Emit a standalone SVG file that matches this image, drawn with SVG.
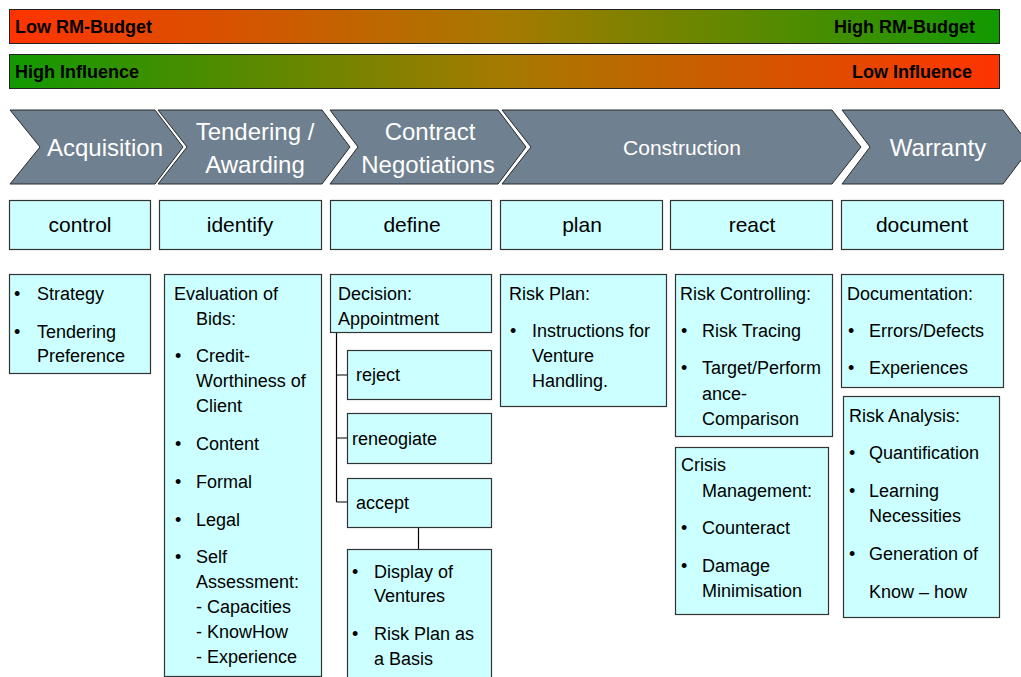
<svg xmlns="http://www.w3.org/2000/svg" width="1021" height="677" viewBox="0 0 1021 677">
<defs>
<linearGradient id="gRG" x1="0" y1="0" x2="1" y2="0">
<stop offset="0" stop-color="#ff3300"/>
<stop offset="0.5" stop-color="#a67a00"/>
<stop offset="1" stop-color="#119900"/>
</linearGradient>
<linearGradient id="gGR" x1="0" y1="0" x2="1" y2="0">
<stop offset="0" stop-color="#119900"/>
<stop offset="0.5" stop-color="#a67a00"/>
<stop offset="1" stop-color="#ff3300"/>
</linearGradient>
<style>
text{font-family:"Liberation Sans",Arial,sans-serif;}
.bar{stroke:#222;stroke-width:1;}
.bt{font-size:18px;font-weight:bold;fill:#000;}
.chev{fill:#6f8090;stroke:#2a2a2a;stroke-width:1;}
.ct{font-size:24px;fill:#fff;text-anchor:middle;}
.box{fill:#ccffff;stroke:#333;stroke-width:1.2;}
.rt{font-size:21px;fill:#000;text-anchor:middle;}
.t{font-size:18px;fill:#000;}
.ln{stroke:#000;stroke-width:1.2;fill:none;}
</style>
</defs>
<g id="bars">
<rect class="bar" x="9.5" y="9.5" width="990" height="34" fill="url(#gRG)"/>
<text class="bt" x="15" y="33">Low RM-Budget</text>
<text class="bt" x="975" y="33" text-anchor="end">High RM-Budget</text>
<rect class="bar" x="9.5" y="54.5" width="990" height="34" fill="url(#gGR)"/>
<text class="bt" x="15" y="78">High Influence</text>
<text class="bt" x="972" y="78" text-anchor="end">Low Influence</text>
</g>
<g id="phase-acquisition">
<polygon class="chev" points="10,110 155,110 183,147 155,184 10,184 40,147"/>
<text class="ct" x="105" y="156">Acquisition</text>
</g>
<g id="phase-tendering">
<polygon class="chev" points="158,110 322,110 350,147 322,184 158,184 187,147"/>
<text class="ct" x="255" y="140">Tendering /</text>
<text class="ct" x="255" y="173">Awarding</text>
</g>
<g id="phase-contract">
<polygon class="chev" points="330,110 498,110 526,147 498,184 330,184 358,147"/>
<text class="ct" x="430" y="140">Contract</text>
<text class="ct" x="428" y="173">Negotiations</text>
</g>
<g id="phase-construction">
<polygon class="chev" points="502,110 832,110 861,147 832,184 502,184 531,147"/>
<text class="ct" x="682" y="155" style="font-size:21px">Construction</text>
</g>
<g id="phase-warranty">
<polygon class="chev" points="842,110 1003,110 1031,147 1003,184 842,184 870,147"/>
<text class="ct" x="938" y="156">Warranty</text>
</g>
<g id="row-control"><rect class="box" x="9.5" y="200.5" width="141" height="49"/><text class="rt" x="80" y="232">control</text></g>
<g id="row-identify"><rect class="box" x="159.5" y="200.5" width="162" height="49"/><text class="rt" x="240" y="232">identify</text></g>
<g id="row-define"><rect class="box" x="330.5" y="200.5" width="161" height="49"/><text class="rt" x="412" y="232">define</text></g>
<g id="row-plan"><rect class="box" x="500.5" y="200.5" width="162" height="49"/><text class="rt" x="582" y="232">plan</text></g>
<g id="row-react"><rect class="box" x="670.5" y="200.5" width="162" height="49"/><text class="rt" x="752" y="232">react</text></g>
<g id="row-document"><rect class="box" x="841.5" y="200.5" width="162" height="49"/><text class="rt" x="922" y="232">document</text></g>
<g id="connectors">
<path class="ln" d="M336.5,332 V502 M336.5,375 H347 M336.5,438 H347 M336.5,502 H347 M418.5,527 V549"/>
</g>
<g id="box-control">
<rect class="box" x="9.5" y="274.5" width="141" height="99"/>
<text class="t" x="14" y="300">•</text><text class="t" x="37" y="300">Strategy</text>
<text class="t" x="14" y="338">•</text><text class="t" x="37" y="338">Tendering</text>
<text class="t" x="37" y="362">Preference</text>
</g>
<g id="box-identify">
<rect class="box" x="164.5" y="274.5" width="157" height="402"/>
<text class="t" x="174" y="300">Evaluation of</text>
<text class="t" x="196" y="325">Bids:</text>
<text class="t" x="175" y="362">•</text><text class="t" x="196" y="362">Credit-</text>
<text class="t" x="196" y="387">Worthiness of</text>
<text class="t" x="196" y="412">Client</text>
<text class="t" x="175" y="450">•</text><text class="t" x="196" y="450">Content</text>
<text class="t" x="175" y="488">•</text><text class="t" x="196" y="488">Formal</text>
<text class="t" x="175" y="526">•</text><text class="t" x="196" y="526">Legal</text>
<text class="t" x="175" y="563">•</text><text class="t" x="196" y="563">Self</text>
<text class="t" x="196" y="588">Assessment:</text>
<text class="t" x="196" y="613">- Capacities</text>
<text class="t" x="196" y="638">- KnowHow</text>
<text class="t" x="196" y="663">- Experience</text>
</g>
<g id="box-decision">
<rect class="box" x="330.5" y="274.5" width="161" height="58"/>
<text class="t" x="338" y="300">Decision:</text>
<text class="t" x="338" y="325">Appointment</text>
</g>
<g id="box-reject"><rect class="box" x="347.5" y="350.5" width="144" height="49"/><text class="t" x="356" y="381">reject</text></g>
<g id="box-reneogiate"><rect class="box" x="347.5" y="413.5" width="144" height="50"/><text class="t" x="352" y="445">reneogiate</text></g>
<g id="box-accept"><rect class="box" x="347.5" y="478.5" width="144" height="49"/><text class="t" x="356" y="509">accept</text></g>
<g id="box-display">
<rect class="box" x="347.5" y="549.5" width="144" height="132"/>
<text class="t" x="352" y="578">•</text><text class="t" x="374" y="578">Display of</text>
<text class="t" x="374" y="602">Ventures</text>
<text class="t" x="352" y="640">•</text><text class="t" x="374" y="640">Risk Plan as</text>
<text class="t" x="374" y="665">a Basis</text>
</g>
<g id="box-riskplan">
<rect class="box" x="500.5" y="274.5" width="166" height="132"/>
<text class="t" x="509" y="300">Risk Plan:</text>
<text class="t" x="510" y="337">•</text><text class="t" x="532" y="337">Instructions for</text>
<text class="t" x="532" y="362">Venture</text>
<text class="t" x="532" y="387">Handling.</text>
</g>
<g id="box-riskcontrolling">
<rect class="box" x="675.5" y="274.5" width="157" height="162"/>
<text class="t" x="680" y="300">Risk Controlling:</text>
<text class="t" x="681" y="337">•</text><text class="t" x="702" y="337">Risk Tracing</text>
<text class="t" x="681" y="374">•</text><text class="t" x="702" y="374">Target/Perform</text>
<text class="t" x="702" y="400">ance-</text>
<text class="t" x="702" y="425">Comparison</text>
</g>
<g id="box-crisis">
<rect class="box" x="675.5" y="447.5" width="153" height="167"/>
<text class="t" x="681" y="471">Crisis</text>
<text class="t" x="702" y="497">Management:</text>
<text class="t" x="681" y="534">•</text><text class="t" x="702" y="534">Counteract</text>
<text class="t" x="681" y="572">•</text><text class="t" x="702" y="572">Damage</text>
<text class="t" x="702" y="597">Minimisation</text>
</g>
<g id="box-documentation">
<rect class="box" x="841.5" y="274.5" width="162" height="113"/>
<text class="t" x="847" y="300">Documentation:</text>
<text class="t" x="848" y="337">•</text><text class="t" x="869" y="337">Errors/Defects</text>
<text class="t" x="848" y="374">•</text><text class="t" x="869" y="374">Experiences</text>
</g>
<g id="box-riskanalysis">
<rect class="box" x="843.5" y="396.5" width="156" height="221"/>
<text class="t" x="849" y="422">Risk Analysis:</text>
<text class="t" x="849" y="459">•</text><text class="t" x="869" y="459">Quantification</text>
<text class="t" x="849" y="497">•</text><text class="t" x="869" y="497">Learning</text>
<text class="t" x="869" y="522">Necessities</text>
<text class="t" x="849" y="560">•</text><text class="t" x="869" y="560">Generation of</text>
<text class="t" x="869" y="598">Know – how</text>
</g>
</svg>
